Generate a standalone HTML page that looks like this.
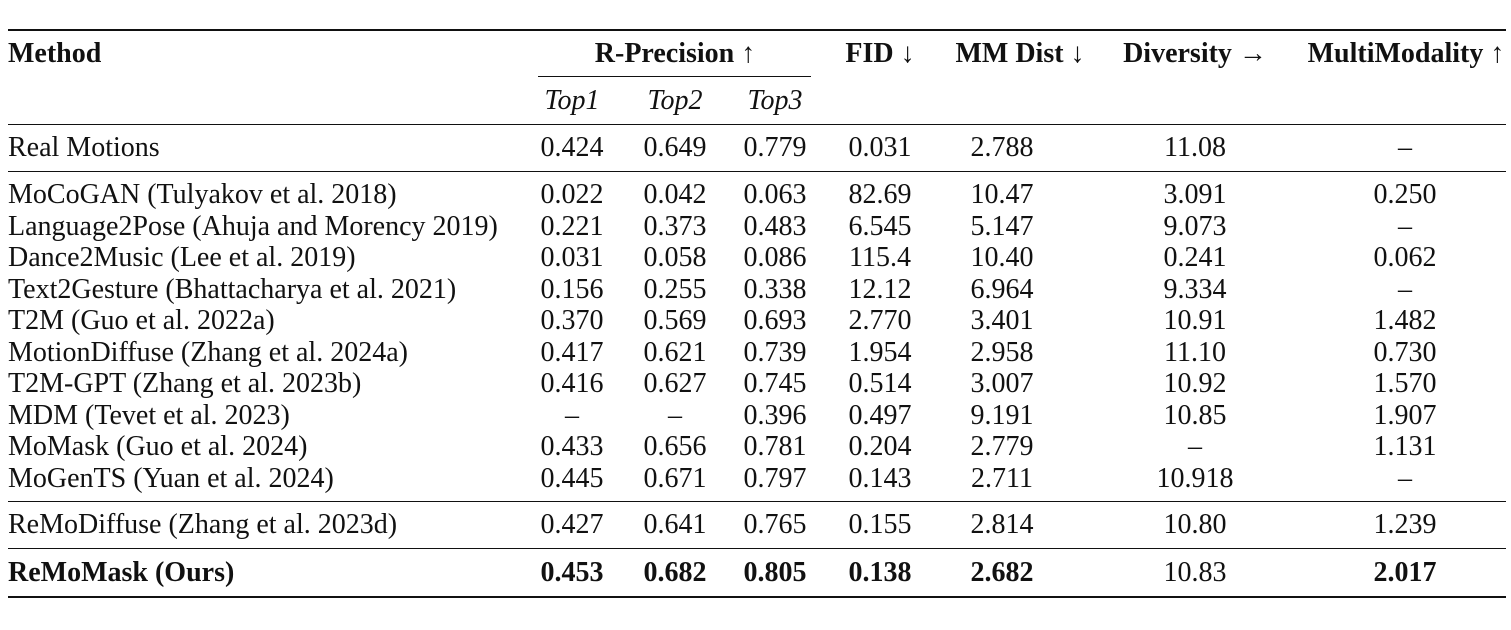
<!DOCTYPE html>
<html><head><meta charset="utf-8"><style>
body{margin:0;width:1511px;height:629px;background:#fff;position:relative;overflow:hidden;font-family:"Liberation Serif",serif;font-size:28px;color:#111}
.t{position:absolute;white-space:nowrap;line-height:1;transform:translate(-50%,-50%)}
.l{position:absolute;white-space:nowrap;line-height:1;transform:translateY(-50%);left:8px}
.r{position:absolute;left:8px;width:1498px;background:#111}
b{font-weight:bold}
i{font-style:italic}
#c{position:absolute;left:0;top:1px;width:1511px;height:629px}
</style></head><body>
<div class="r" style="top:29px;height:2px"></div>
<div class="r" style="left:538px;width:273px;top:76px;height:1px"></div>
<div class="r" style="top:124px;height:1px"></div>
<div class="r" style="top:171px;height:1px"></div>
<div class="r" style="top:501px;height:1px"></div>
<div class="r" style="top:548px;height:1px"></div>
<div class="r" style="top:596px;height:2px"></div>
<div id="c"></div>
<script>
var X=[572,675,775,880,1002,1195,1405];
var H='';
function L(y,s){H+='<div class="l" style="top:'+y+'px">'+s+'</div>';}
function C(x,y,s){H+='<div class="t" style="left:'+x+'px;top:'+y+'px">'+s+'</div>';}
L(53,'<b>Method</b>');
C(675,53,'<b>R-Precision ↑</b>');C(880,53,'<b>FID ↓</b>');C(1020,53,'<b>MM Dist ↓</b>');C(1195,53,'<b>Diversity →</b>');C(1406,53,'<b>MultiModality ↑</b>');
C(572,100,'<i>Top1</i>');C(675,100,'<i>Top2</i>');C(775,100,'<i>Top3</i>');
var rows=[
[147,'Real Motions',['0.424','0.649','0.779','0.031','2.788','11.08','–']],
[194,'MoCoGAN (Tulyakov et al. 2018)',['0.022','0.042','0.063','82.69','10.47','3.091','0.250']],
[226,'Language2Pose (Ahuja and Morency 2019)',['0.221','0.373','0.483','6.545','5.147','9.073','–']],
[257,'Dance2Music (Lee et al. 2019)',['0.031','0.058','0.086','115.4','10.40','0.241','0.062']],
[289,'Text2Gesture (Bhattacharya et al. 2021)',['0.156','0.255','0.338','12.12','6.964','9.334','–']],
[320,'T2M (Guo et al. 2022a)',['0.370','0.569','0.693','2.770','3.401','10.91','1.482']],
[352,'MotionDiffuse (Zhang et al. 2024a)',['0.417','0.621','0.739','1.954','2.958','11.10','0.730']],
[383,'T2M-GPT (Zhang et al. 2023b)',['0.416','0.627','0.745','0.514','3.007','10.92','1.570']],
[415,'MDM (Tevet et al. 2023)',['–','–','0.396','0.497','9.191','10.85','1.907']],
[446,'MoMask (Guo et al. 2024)',['0.433','0.656','0.781','0.204','2.779','–','1.131']],
[478,'MoGenTS (Yuan et al. 2024)',['0.445','0.671','0.797','0.143','2.711','10.918','–']],
[524,'ReMoDiffuse (Zhang et al. 2023d)',['0.427','0.641','0.765','0.155','2.814','10.80','1.239']],
[572,'<b>ReMoMask (Ours)</b>',['<b>0.453</b>','<b>0.682</b>','<b>0.805</b>','<b>0.138</b>','<b>2.682</b>','10.83','<b>2.017</b>']]];
rows.forEach(function(r){L(r[0],r[1]);r[2].forEach(function(v,k){C(X[k],r[0],v);});});
document.getElementById('c').innerHTML=H;
</script>
</body></html>
